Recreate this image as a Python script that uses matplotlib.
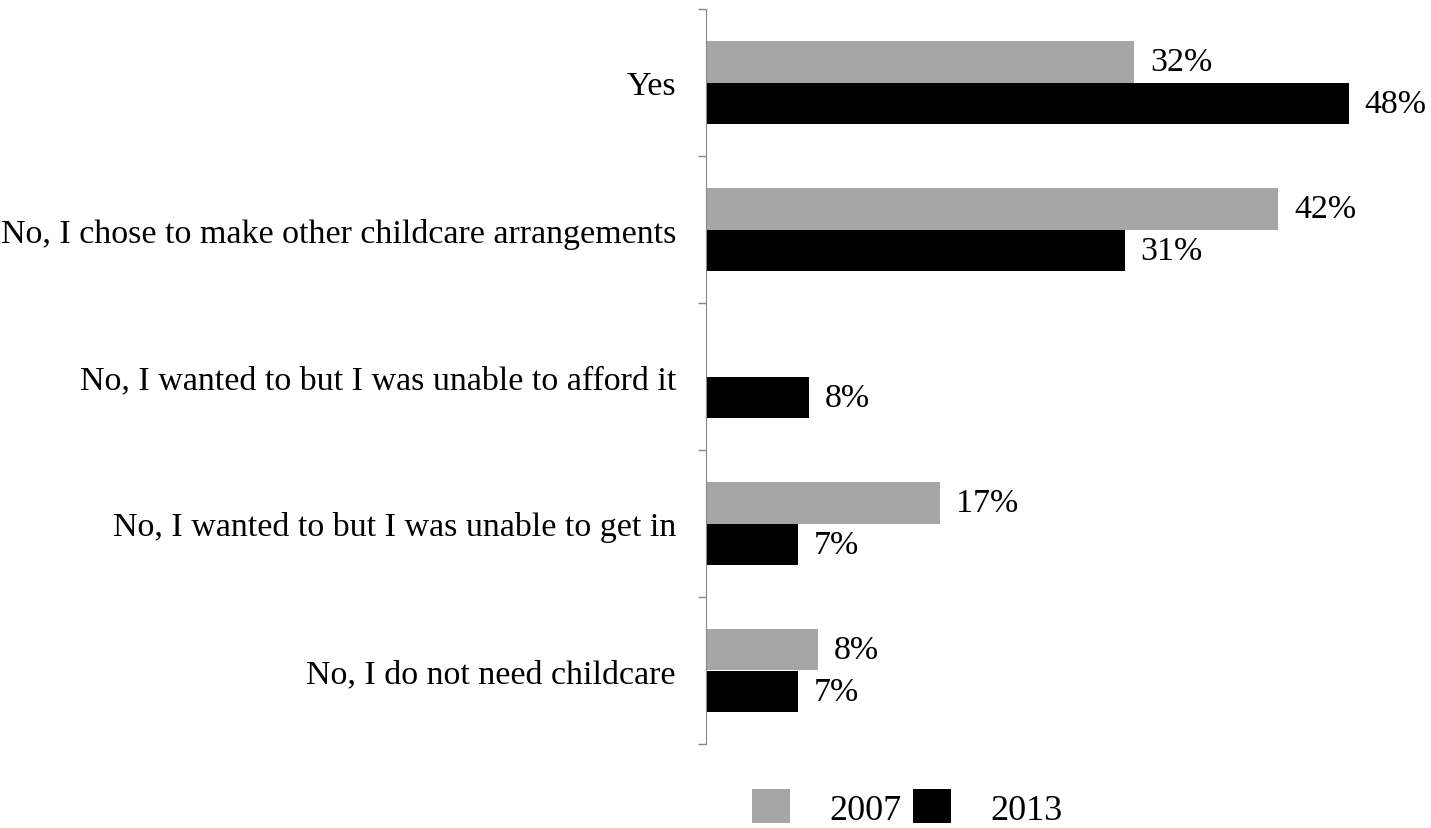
import matplotlib
matplotlib.use("Agg")
import matplotlib.pyplot as plt
from matplotlib.patches import Patch
import numpy as np

plt.rcParams['font.family'] = ['Liberation Serif', 'DejaVu Serif']

# datos
categorias = ["Yes",
              "No, I chose to make other childcare arrangements",
              "No, I wanted to but I was unable to afford it",
              "No, I wanted to but I was unable to get in",
              "No, I do not need childcare"]
anios = ["2007", "2013"]
v2007 = [31.7, 42.4, 0, 17.3, 8.3]
v2013 = [47.6, 31.0, 7.6, 6.8, 6.8]
colores = ["#a6a6a6", "#000000"]

W, H = 1431, 829
fig = plt.figure(figsize=(W/100, H/100), dpi=100)
ax = fig.add_axes([706/W, (H-745)/H, (W-706)/W, 735/H])

y = np.arange(len(categorias))
alto = 0.2857
ax.barh(y - alto/2, v2007, height=alto, color=colores[0])
ax.barh(y + alto/2, v2013, height=alto, color=colores[1])

# etiquetas de valores
for serie, desp in [(v2007, -alto/2), (v2013, alto/2)]:
    for i, v in enumerate(serie):
        if v > 0:
            ax.annotate(f"{v:.0f}%", (v, i + desp), xytext=(16, 0), textcoords="offset pixels",
                        ha="left", va="center", fontsize=24.5)

ax.set_xlim(0, (W-706)/13.5)
ax.set_ylim(len(categorias)-0.5, -0.5)

# ticks en los limites de las categorias
ax.set_yticks(np.arange(-0.5, len(categorias), 1.0))
ax.set_yticklabels([])
ax.set_yticks(y, minor=True)
ax.set_yticklabels(categorias, minor=True, fontsize=24.5)
ax.tick_params(axis="y", which="major", length=6, color="#888888", width=1)
ax.tick_params(axis="y", which="minor", length=0, pad=21.6)
ax.set_xticks([])

for s in ["top", "right", "bottom"]:
    ax.spines[s].set_visible(False)
ax.spines["left"].set_color("#888888")

manijas = [Patch(facecolor=c) for c in colores]
fig.legend(manijas, anios, loc="center left", bbox_to_anchor=(752/W, 1-809/H),
           ncol=2, frameon=False, fontsize=26, handlelength=1.05, handleheight=1.05,
           handletextpad=1.1, columnspacing=0.3, borderpad=0, borderaxespad=0)

fig.savefig("out.png", dpi=100)
